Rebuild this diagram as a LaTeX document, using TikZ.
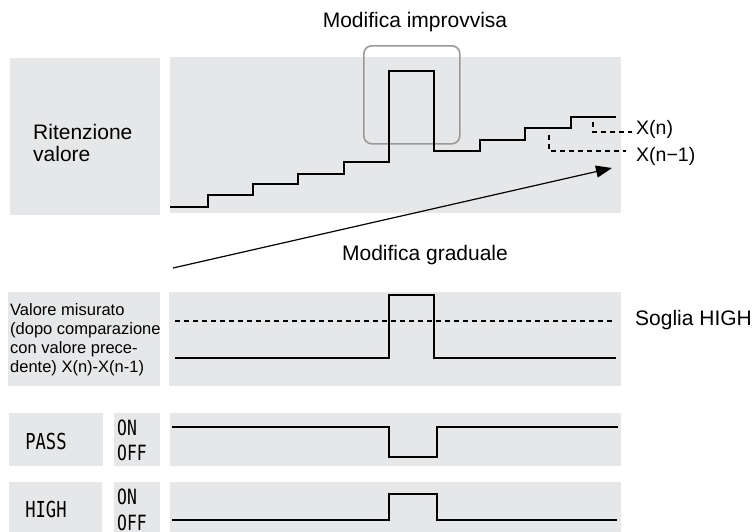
\documentclass[tikz,border=0pt]{standalone}
\usepackage{fontspec}
\setmainfont{Liberation Sans}
\newfontfamily\condmono[FakeStretch=0.78]{DejaVu Sans Mono}
\usetikzlibrary{arrows.meta}
\definecolor{panelgray}{HTML}{E6E7E8}
\definecolor{framegray}{HTML}{9A9A9A}
\begin{document}
\begin{tikzpicture}[x=1pt,y=-1pt,
  panel/.style={fill=panelgray, draw=none, inner sep=0pt, anchor=north west},
  sig/.style={line width=2.4pt, line join=miter, line cap=butt},
  stair/.style={line width=2pt, line join=miter},
  dashline/.style={line width=1.2pt, dash pattern=on 5pt off 4pt},
  bigtxt/.style={font=\fontsize{21}{22}\selectfont, inner sep=0pt},
  smalltxt/.style={font=\fontsize{16.5}{19}\selectfont, inner sep=0pt},
  xtxt/.style={font=\fontsize{19.5}{20}\selectfont, inner sep=0pt, anchor=west},
  monotxt/.style={font=\condmono\fontsize{22}{22}\selectfont, inner sep=0pt},
  onofftxt/.style={font=\condmono\fontsize{21}{22}\selectfont, inner sep=0pt, anchor=west},
]
\useasboundingbox (0,0) rectangle (753,531);
\clip (0,0) rectangle (753,531);

% panels
\node[panel, minimum width=150pt, minimum height=157pt] (retbox) at (10,58) {};
\node[panel, minimum width=451pt, minimum height=156pt] (topplot) at (170,57) {};
\node[panel, minimum width=152pt, minimum height=94pt] (measbox) at (8,292) {};
\node[panel, minimum width=452pt, minimum height=94pt] (measplot) at (169,292) {};
\node[panel, minimum width=94pt, minimum height=53pt] (passbox) at (9,413) {};
\node[panel, minimum width=46pt, minimum height=53pt] (passonoff) at (114,413) {};
\node[panel, minimum width=451pt, minimum height=53pt] (passplot) at (170,413) {};
\node[panel, minimum width=93pt, minimum height=60pt] (highbox) at (9,482) {};
\node[panel, minimum width=46pt, minimum height=60pt] (highonoff) at (114,482) {};
\node[panel, minimum width=451pt, minimum height=60pt] (highplot) at (170,482) {};

% texts
\node[bigtxt] (improv) at (415,22) {Modifica improvvisa};
\node[bigtxt, anchor=west, align=left] (ritlbl) at (33,143) {Ritenzione\\valore};
\node[bigtxt] (gradual) at (425,255) {Modifica graduale};
\node[xtxt] (xn) at (636,129) {X(n)};
\node[xtxt] (xn1) at (636,156) {X(n−1)};
\node[smalltxt, anchor=west, align=left] (measlbl) at (10,340) {Valore misurato\\(dopo comparazione\\con valore prece-\\dente) X(n)-X(n-1)};
\node[bigtxt, anchor=west] (soglia) at (635,320) {Soglia HIGH};
\node[monotxt] (passlbl) at (46,441) {PASS};
\node[onofftxt] (passon) at (117,428) {ON};
\node[onofftxt] (passoff) at (117,453) {OFF};
\node[monotxt] (highlbl) at (46,509) {HIGH};
\node[onofftxt] (highon) at (117,497) {ON};
\node[onofftxt] (highoff) at (117,523) {OFF};

% sudden change frame
\node[draw=framegray, line width=1.6pt, rounded corners=8pt, inner sep=0pt,
      minimum width=96pt, minimum height=98pt, anchor=north west] (sudden) at (363,45) {};

% staircase
\draw[stair] (170,207) -| (208,195) -| (253,184) -| (298,174) -| (344,162)
  -| (389,71) -| (434,151) -| (480,140) -| (525,128) -| (571,117) -- (616,117);

% X(n), X(n-1) markers
\coordinate (xntick) at (593,122);
\coordinate (xnend) at (632,132);
\coordinate (xn1tick) at (549,135);
\coordinate (xn1end) at (626,151);
\draw[dashline] (xntick) |- (xnend);
\draw[dashline] (xn1tick) |- (xn1end);

% gradual arrow
\coordinate (gstart) at (173,268);
\coordinate (gend) at (612,168);
\draw[line width=1.2pt, -{Triangle[length=16pt,width=12pt]}] (gstart) -- (gend);

% measured value
\draw[dashline] (175,321) -- (615,321);
\draw[sig] (175,358) -| (389,295) -| (434,358) -- (616,358);

% PASS
\draw[sig] (172,427) -| (389,457) -| (437,427) -- (618,427);
% HIGH
\draw[sig] (172,520) -| (389,494) -| (437,520) -- (617,520);
\end{tikzpicture}
\end{document}
